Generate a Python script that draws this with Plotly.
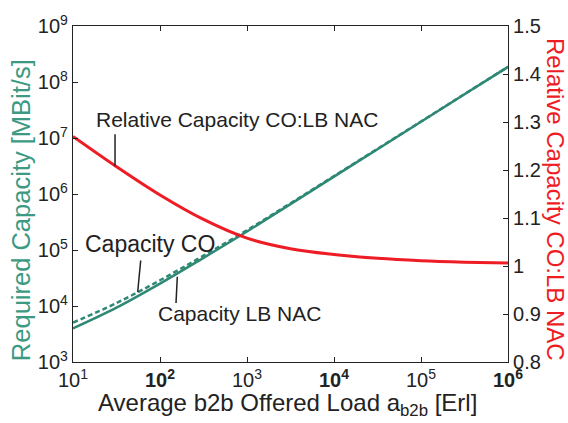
import plotly.graph_objects as go

# Average b2b offered load [Erl], half-decade steps
offered_load = [1e1, 3.162e1, 1e2, 3.162e2, 1e3, 3.162e3, 1e4, 3.162e4, 1e5, 3.162e5, 1e6]

# Required capacity [MBit/s]
capacity_lb_nac = [3.98e3, 9.33e3, 2.51e4, 7.24e4, 2.14e5, 6.61e5, 2.04e6, 6.31e6, 1.95e7, 6.03e7, 1.86e8]
capacity_co = [5.06e3, 1.13e4, 2.88e4, 7.94e4, 2.26e5, 6.84e5, 2.09e6, 6.41e6, 1.97e7, 6.08e7, 1.87e8]

# Relative capacity CO : LB NAC
relative_capacity = [1.270, 1.207, 1.148, 1.097, 1.058, 1.036, 1.024, 1.016, 1.011, 1.008, 1.006]

x_tickvals = [1e1, 1e2, 1e3, 1e4, 1e5, 1e6]
x_ticktext = ["10<sup>1</sup>", "<b>10<sup>2</sup></b>", "10<sup>3</sup>",
              "<b>10<sup>4</sup></b>", "10<sup>5</sup>", "<b>10<sup>6</sup></b>"]
y_tickvals = [1e3, 1e4, 1e5, 1e6, 1e7, 1e8, 1e9]
y_ticktext = ["10<sup>%d</sup>" % k for k in range(3, 10)]
y2_tickvals = [0.8, 0.9, 1.0, 1.1, 1.2, 1.3, 1.4, 1.5]
y2_ticktext = ["0.8", "0.9", "1", "1.1", "1.2", "1.3", "1.4", "1.5"]

TEAL = "#2E8874"
TEAL_TITLE = "#3C9A82"
RED = "#EE1C25"
INK = "#222222"
FONT = "Liberation Sans, Arial, sans-serif"

fig = go.Figure()
fig.add_trace(go.Scatter(x=offered_load, y=capacity_co, mode="lines",
                         line=dict(color=TEAL, width=2.5, dash="5px,3px", shape="spline"),
                         name="Capacity CO"))
fig.add_trace(go.Scatter(x=offered_load, y=capacity_lb_nac, mode="lines",
                         line=dict(color=TEAL, width=2.5, shape="spline"),
                         name="Capacity LB NAC"))
fig.add_trace(go.Scatter(x=offered_load, y=relative_capacity, mode="lines", yaxis="y2",
                         line=dict(color=RED, width=3, shape="spline"),
                         name="Relative Capacity CO:LB NAC"))

axis_common = dict(showline=True, linecolor=INK, linewidth=1.2, ticks="inside",
                   ticklen=5, tickcolor=INK, showgrid=False, zeroline=False,
                   tickfont=dict(family=FONT, size=20, color=INK))

fig.update_layout(
    width=568, height=423,
    margin=dict(l=73, r=60, t=19, b=61),
    paper_bgcolor="white", plot_bgcolor="white",
    showlegend=False,
    font=dict(family=FONT, color=INK),
    xaxis=dict(type="log", range=[1, 6], tickmode="array", tickvals=x_tickvals,
               ticktext=x_ticktext, mirror="ticks", **axis_common),
    yaxis=dict(type="log", range=[3, 9], tickmode="array", tickvals=y_tickvals,
               ticktext=y_ticktext, **axis_common),
    yaxis2=dict(overlaying="y", side="right", range=[0.8, 1.5], tickmode="array",
                tickvals=y2_tickvals, ticktext=y2_ticktext, **axis_common),
)

# Axis titles
fig.add_annotation(text="Average b2b Offered Load a<sub>b2b</sub> [Erl]", xref="paper", yref="paper",
                   x=0.494, y=-0.125, showarrow=False, xanchor="center", yanchor="middle",
                   font=dict(family=FONT, size=24, color=INK))
fig.add_annotation(text="Required Capacity [MBit/s]", xref="paper", yref="paper",
                   x=-0.1195, y=0.452, showarrow=False, textangle=-90,
                   xanchor="center", yanchor="middle",
                   font=dict(family=FONT, size=25.5, color=TEAL_TITLE))
fig.add_annotation(text="Relative Capacity CO:LB NAC", xref="paper", yref="paper",
                   x=1.108, y=0.4825, showarrow=False, textangle=90,
                   xanchor="center", yanchor="middle",
                   font=dict(family=FONT, size=24, color=RED))

# Curve labels
fig.add_annotation(text="Relative Capacity CO:LB NAC", xref="paper", yref="paper",
                   x=(94 - 73) / 435, y=(362 - 114) / 343, showarrow=False,
                   xanchor="left", yanchor="middle", font=dict(family=FONT, size=21, color=INK))
fig.add_annotation(text="Capacity CO", xref="paper", yref="paper",
                   x=(83 - 73) / 435, y=(362 - 242) / 343, showarrow=False,
                   xanchor="left", yanchor="middle", font=dict(family=FONT, size=23, color=INK))
fig.add_annotation(text="Capacity LB NAC", xref="paper", yref="paper",
                   x=(156 - 73) / 435, y=(362 - 312) / 343, showarrow=False,
                   xanchor="left", yanchor="middle", font=dict(family=FONT, size=21, color=INK))

# Pointer lines from labels to curves
pointer = dict(type="line", xref="paper", yref="paper", line=dict(color=INK, width=1.5))
fig.add_shape(x0=0.0966, y0=0.678, x1=0.0966, y1=0.584, **pointer)
fig.add_shape(x0=0.1556, y0=0.302, x1=0.1487, y1=0.208, **pointer)
fig.add_shape(x0=0.2398, y0=0.2536, x1=0.2368, y1=0.1758, **pointer)

fig.write_html("out.html")
